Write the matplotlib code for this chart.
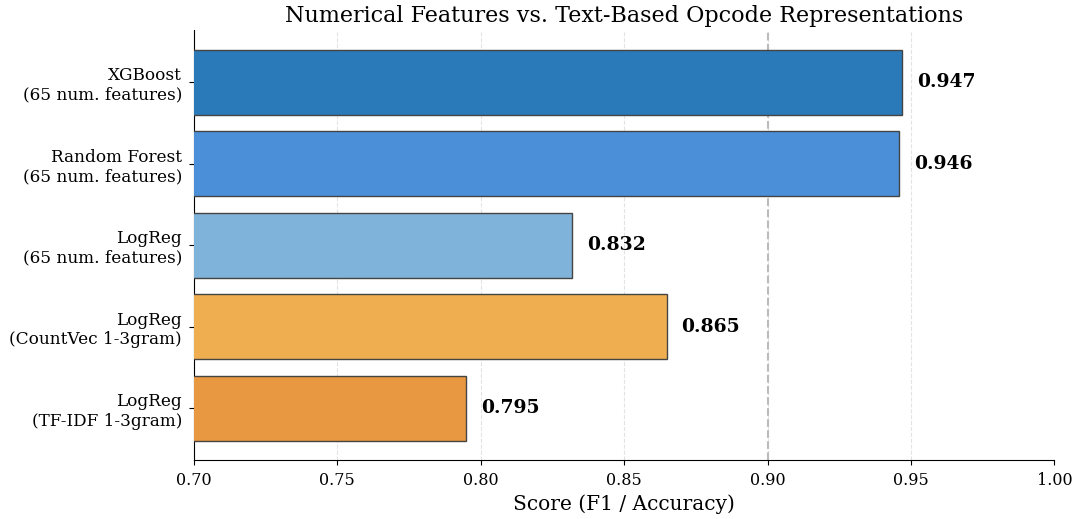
import matplotlib
matplotlib.use("Agg")
import matplotlib.pyplot as plt

plt.rcParams['font.family'] = ['DejaVu Serif']

models = ["XGBoost\n(65 num. features)", "Random Forest\n(65 num. features)",
          "LogReg\n(65 num. features)", "LogReg\n(CountVec 1-3gram)",
          "LogReg\n(TF-IDF 1-3gram)"]
scores = [0.947, 0.946, 0.832, 0.865, 0.795]
colors = ["#2a7ab9", "#4a8fd8", "#80b3d9", "#efaf50", "#e89840"]

fig, ax = plt.subplots(figsize=(10.77, 5.19), dpi=100)
fig.subplots_adjust(left=0.18, right=0.979, top=0.942, bottom=0.113)

y = list(range(len(models)))
ax.barh(y, scores, height=0.8, color=colors, edgecolor="#444444", linewidth=1.0, zorder=3)
ax.invert_yaxis()
ax.set_yticks(y)
ax.set_yticklabels(models, fontsize=12.2)
ax.set_xlim(0.70, 1.00)
ax.set_xticks([0.70, 0.75, 0.80, 0.85, 0.90, 0.95, 1.00])
ax.tick_params(axis='x', labelsize=11.5, pad=5)
ax.tick_params(axis='y', pad=5)
ax.axvline(0.90, color="#bbbbbb", linestyle="--", linewidth=1.5, zorder=2)
ax.grid(axis='x', linestyle='--', color='#dddddd', alpha=0.8, zorder=0)
ax.set_axisbelow(True)
for s in ["top", "right"]:
    ax.spines[s].set_visible(False)
for yi, v in zip(y, scores):
    ax.text(v + 0.005, yi, f"{v:.3f}", va="center", ha="left", fontsize=13.5, fontweight="bold")
ax.set_xlabel("Score (F1 / Accuracy)", fontsize=14.5, labelpad=4)
ax.set_title("Numerical Features vs. Text-Based Opcode Representations", fontsize=16, pad=6)

fig.savefig("out.png", dpi=100)
